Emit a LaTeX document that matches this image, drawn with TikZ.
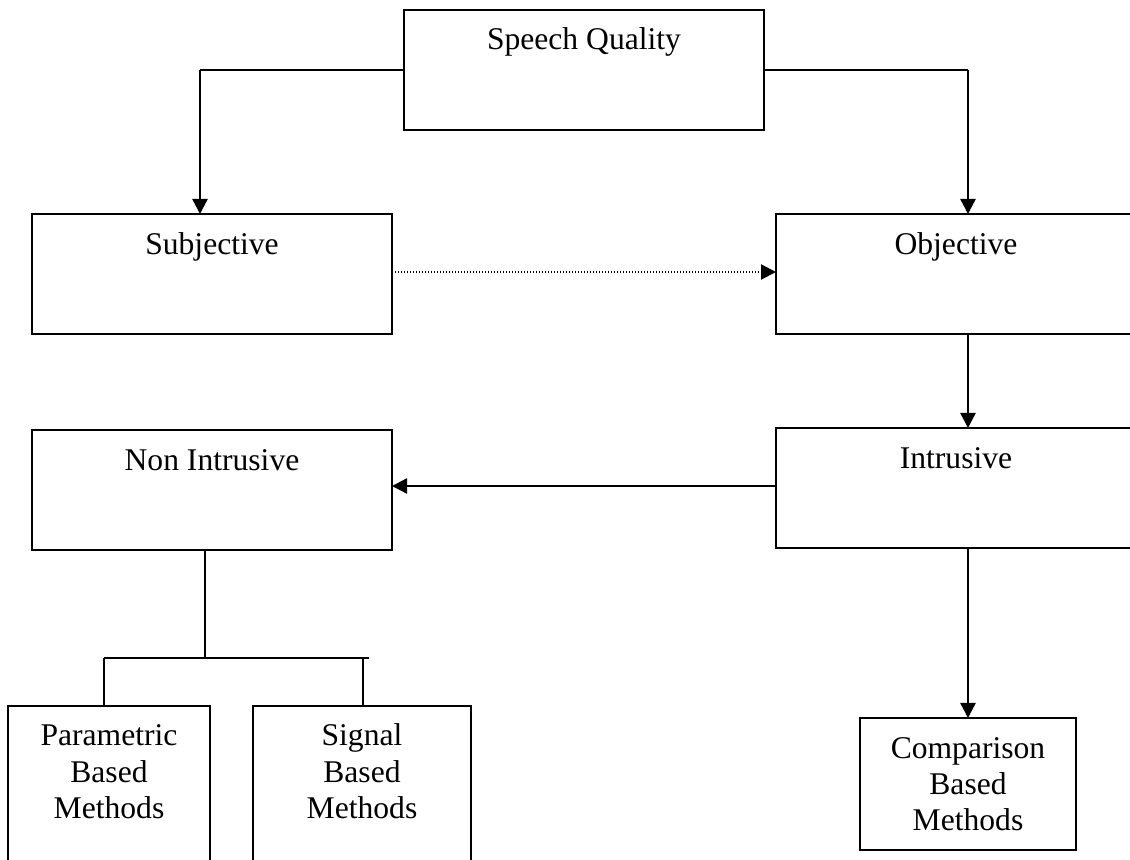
\documentclass[tikz,border=0pt]{standalone}
\usepackage{fontspec}
\setmainfont{Liberation Serif}
\usetikzlibrary{arrows.meta,calc}

\tikzset{
  box/.style={draw, line width=0.9pt, inner sep=0pt, outer sep=0pt, rectangle},
  lbl/.style={anchor=base, inner sep=0pt, align=center,
              font=\fontsize{15.8pt}{18pt}\selectfont},
  link/.style={line width=0.8pt},
  flow/.style={line width=1.2pt, -{Triangle[length=7.5pt,width=7.5pt]}},
  hint/.style={line width=1.1pt, dash pattern=on 0.5pt off 1pt,
               -{Triangle[length=7.5pt,width=7.5pt]}}
}

\begin{document}
\begin{tikzpicture}[x=0.5pt, y=-0.5pt]
  \useasboundingbox (0,0) rectangle (1130,860);
  \clip (0,0) rectangle (1130,860);

  % boxes
  \node[box, minimum width=180pt, minimum height=60pt] (sq)     at (584,70)  {};
  \node[box, minimum width=180pt, minimum height=60pt] (subj)   at (212,274) {};
  \node[box, minimum width=180pt, minimum height=60pt] (obj)    at (956,274) {};
  \node[box, minimum width=180pt, minimum height=60pt] (nonint) at (212,490) {};
  \node[box, minimum width=180pt, minimum height=60pt] (intr)   at (956,488) {};
  \node[box, minimum width=101pt, minimum height=90pt] (param)  at (109,796) {};
  \node[box, minimum width=109pt, minimum height=90pt] (signal) at (362,796) {};
  \node[box, minimum width=108pt, minimum height=66pt] (comp)   at (968,784) {};

  % labels (base anchor: last line of a multi-line label)
  \node[lbl] (sqt)     at ($(sq.north)+(0,40)$)      {Speech Quality};
  \node[lbl] (subjt)   at ($(subj.north)+(0,41)$)    {Subjective};
  \node[lbl] (objt)    at ($(obj.north)+(0,41)$)     {Objective};
  \node[lbl] (nonintt) at ($(nonint.north)+(0,41)$)  {Non Intrusive};
  \node[lbl] (intrt)   at ($(intr.north)+(0,41)$)    {Intrusive};
  \node[lbl] (paramt)  at ($(param.north)+(0,112)$)  {Parametric\\Based\\Methods};
  \node[lbl] (signalt) at ($(signal.north)+(0,112)$) {Signal\\Based\\Methods};
  \node[lbl] (compt)   at ($(comp.north)+(0,112)$)   {Comparison\\Based\\Methods};

  % top branches
  \coordinate (toL) at (200,70);
  \coordinate (toR) at (968,70);
  \draw[link] (sq.west) -- (toL);
  \draw[flow] (toL) -- ([xshift=-6pt]subj.north);
  \draw[link] (sq.east) -- (toR);
  \draw[flow] (toR) -- ([xshift=6pt]obj.north);

  % dotted link between the two families
  \draw[hint] ([yshift=1pt]subj.east) -- ([yshift=1pt]obj.west);

  % objective chain
  \draw[flow] ([xshift=6pt]obj.south) -- ([xshift=6pt]intr.north);
  \draw[flow] ([yshift=1pt]intr.west) -- ([yshift=1pt]intr.west -| nonint.east);
  \draw[flow] ([xshift=6pt]intr.south) -- (comp.north);

  % non intrusive fork
  \coordinate (drop) at ([xshift=-3.5pt]nonint.south);
  \coordinate (busL) at (104,658);
  \coordinate (busS) at (363,658);
  \coordinate (busR) at (369,658);
  \draw[link] (drop) -- (drop |- busL);
  \draw[link] (busL) -- (busR);
  \draw[link] (busL) -- (busL |- param.north);
  \draw[link] (busS) -- (busS |- signal.north);
\end{tikzpicture}
\end{document}
